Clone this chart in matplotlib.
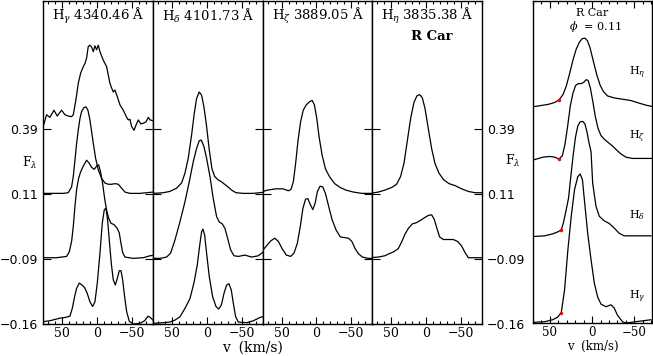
import matplotlib.pyplot as plt
from matplotlib.ticker import MultipleLocator

plt.rcParams['font.family'] = 'DejaVu Serif'
plt.rcParams['mathtext.fontset'] = 'dejavuserif'

# continuum levels of the stacked spectra (position, label)
level_pos = [0, 1, 2, 3]
level_lab = ['\u22120.16', '\u22120.09', '0.11', '0.39']

# ---- H gamma 4340.46 (four epochs, top to bottom) ----
hg1_v = [76.7, 71.9, 67.1, 61.4, 56.7, 50.5, 45.7, 41.0, 36.2, 33.8, 30.0, 26.7, 23.3, 19.5, 17.1,
         14.8, 12.4, 10.0, 7.6, 5.2, 2.9, 0.5, -1.9, -4.3, -9.0, -13.8, -16.2, -18.6, -21.0, -23.3,
         -25.7, -29.0, -32.9, -37.6, -42.4, -44.8, -47.1, -49.5, -52.9, -55.7, -59.0, -62.4, -66.2,
         -70.0, -73.3, -75.7, -79.5]
hg1_f = [3.04, 3.22, 3.18, 3.29, 3.20, 3.29, 3.22, 3.20, 3.19, 3.22, 3.45, 3.70, 3.86, 3.96, 4.01,
         4.09, 4.27, 4.29, 4.26, 4.19, 4.28, 4.22, 4.29, 4.19, 4.06, 3.96, 3.83, 3.70, 3.63, 3.57,
         3.60, 3.50, 3.37, 3.29, 3.18, 3.14, 3.15, 3.04, 2.98, 3.06, 3.14, 3.08, 3.09, 3.11, 3.18,
         3.14, 3.13]
hg2_v = [76.7, 62.4, 48.1, 41.0, 36.2, 33.8, 31.4, 29.0, 26.7, 24.3, 21.9, 18.6, 15.7, 12.9, 10.0,
         7.6, 5.2, 1.9, -1.9, -6.7, -11.4, -16.2, -21.0, -25.7, -30.5, -35.2, -40.0, -47.1, -61.4, -80.5]
hg2_f = [2.01, 2.01, 2.01, 2.02, 2.11, 2.27, 2.52, 2.78, 2.98, 3.16, 3.27, 3.33, 3.34, 3.29, 3.14,
         2.96, 2.78, 2.55, 2.37, 2.24, 2.17, 2.15, 2.15, 2.16, 2.15, 2.09, 2.03, 2.01, 2.01, 2.03]
hg3_v = [76.7, 57.6, 43.3, 39.5, 36.2, 33.8, 31.4, 29.0, 26.2, 23.3, 19.5, 14.8, 11.4, 7.6, 3.8,
         0.5, -2.4, -5.2, -8.1, -11.0, -13.8, -16.7, -20.0, -24.3, -29.0, -31.9, -34.3, -36.7, -40.0,
         -51.9, -66.2, -75.7, -82.9]
hg3_f = [1.02, 1.02, 1.04, 1.11, 1.27, 1.50, 1.81, 2.07, 2.24, 2.34, 2.43, 2.52, 2.48, 2.41, 2.38,
         2.43, 2.45, 2.34, 2.16, 1.93, 1.75, 1.63, 1.55, 1.53, 1.47, 1.40, 1.24, 1.10, 1.03,
         1.01, 1.02, 1.05, 1.06]
hg4_v = [79.0, 74.3, 67.1, 60.0, 52.9, 45.7, 38.6, 35.2, 31.9, 29.0, 25.2, 21.4, 17.6, 13.8, 10.0,
         6.2, 2.9, -0.5, -4.3, -7.6, -10.5, -12.9, -15.2, -17.6, -20.5, -23.3, -26.2, -29.0, -31.9,
         -34.3, -36.7, -39.5, -42.4, -46.2, -51.9, -61.4, -68.1, -72.9, -76.2, -81.0]
hg4_f = [0.01, 0.04, 0.05, 0.07, 0.09, 0.10, 0.12, 0.24, 0.42, 0.55, 0.63, 0.60, 0.56, 0.47, 0.34,
         0.27, 0.34, 0.63, 1.09, 1.55, 1.76, 1.78, 1.60, 1.29, 0.93, 0.68, 0.60, 0.70, 0.82,
         0.82, 0.68, 0.42, 0.19, 0.04, 0.00, 0.01, 0.05, 0.12, 0.10, 0.05]

# ---- H delta 4101.73 ----
hd1_v = [76.7, 62.4, 52.9, 43.3, 36.2, 31.4, 26.7, 21.9, 18.1, 14.8, 11.0, 7.6, 4.3, 0.5, -3.3,
         -7.1, -11.0, -15.7, -20.5, -25.2, -30.0, -35.2, -41.4, -51.9, -66.2, -82.9]
hd1_f = [2.01, 2.02, 2.04, 2.09, 2.17, 2.32, 2.55, 2.91, 3.24, 3.47, 3.57, 3.52, 3.34, 3.04, 2.68,
         2.39, 2.27, 2.22, 2.19, 2.15, 2.11, 2.06, 2.02, 2.01, 2.01, 2.03]
hd2_v = [76.7, 67.1, 57.6, 51.9, 45.7, 38.6, 31.4, 25.2, 19.5, 14.8, 11.0, 8.1, 4.3, 0.5, -4.3,
         -9.0, -13.8, -17.6, -21.9, -25.7, -29.5, -33.8, -38.6, -44.8, -54.3, -63.8, -73.3, -80.5, -86.2]
hd2_f = [1.01, 1.01, 1.03, 1.09, 1.29, 1.57, 1.88, 2.19, 2.50, 2.70, 2.82, 2.83, 2.73, 2.55, 2.27,
         1.93, 1.65, 1.57, 1.54, 1.47, 1.32, 1.14, 1.05, 1.04, 1.06, 1.03, 1.05, 1.11, 1.16]
hd3_v = [76.7, 62.4, 52.9, 45.7, 38.6, 31.4, 24.3, 18.6, 13.8, 10.0, 7.6, 5.7, 3.3, 0.5, -3.3,
         -8.1, -12.9, -16.7, -20.5, -24.3, -28.1, -31.4, -34.8, -37.6, -41.0, -44.8, -56.7, -66.2,
         -75.7, -82.9]
hd3_f = [0.01, 0.02, 0.03, 0.06, 0.11, 0.24, 0.39, 0.63, 0.91, 1.24, 1.42, 1.46, 1.37, 1.09, 0.73,
         0.42, 0.27, 0.23, 0.29, 0.47, 0.60, 0.62, 0.52, 0.32, 0.11, 0.03, 0.02, 0.05,
         0.10, 0.12]

# ---- H zeta 3889.05 ----
hz1_v = [80.0, 70.5, 58.6, 48.1, 40.5, 36.7, 33.3, 30.0, 26.7, 22.9, 19.0, 14.8, 10.0, 6.2, 2.9,
         -0.5, -3.8, -8.1, -12.9, -18.6, -26.2, -34.3, -42.4, -53.3, -65.2, -81.9]
hz1_f = [2.03, 2.06, 2.08, 2.08, 2.05, 2.07, 2.19, 2.47, 2.81, 3.11, 3.29, 3.37, 3.42, 3.44, 3.37,
         3.16, 2.88, 2.60, 2.39, 2.27, 2.16, 2.10, 2.06, 2.03, 2.01, 2.01]
hz2_v = [80.0, 72.9, 65.7, 60.0, 54.8, 49.0, 43.3, 37.1, 32.4, 27.6, 23.3, 19.5, 15.7, 12.4, 8.6,
         5.2, 1.9, -1.4, -5.2, -9.0, -12.9, -17.6, -22.4, -28.1, -34.3, -40.5, -46.2, -51.0, -55.7,
         -60.5, -66.2, -74.8, -81.9]
hz2_f = [1.10, 1.19, 1.28, 1.32, 1.27, 1.15, 1.06, 1.04, 1.09, 1.24, 1.50, 1.78, 1.92, 1.93, 1.83,
         1.76, 1.86, 2.04, 2.12, 2.11, 2.01, 1.81, 1.61, 1.45, 1.34, 1.33, 1.32, 1.27, 1.16,
         1.08, 1.03, 1.01, 1.01]

# ---- H eta 3835.38 ----
he1_v = [80.0, 68.1, 58.6, 49.0, 41.9, 36.2, 31.4, 26.7, 21.9, 17.1, 12.9, 9.0, 5.2, 1.4, -3.3,
         -8.1, -12.9, -18.6, -25.2, -32.9, -41.4, -50.9, -60.5, -70.0, -81.9]
he1_f = [2.01, 2.03, 2.06, 2.10, 2.15, 2.27, 2.47, 2.81, 3.16, 3.41, 3.51, 3.53, 3.48, 3.32, 3.01,
         2.70, 2.47, 2.32, 2.22, 2.16, 2.13, 2.08, 2.04, 2.02, 2.02]
he2_v = [80.0, 68.1, 58.6, 52.9, 46.2, 39.5, 34.8, 30.0, 25.2, 19.5, 13.3, 7.1, 1.4, -3.3, -8.1,
         -11.9, -15.7, -19.5, -24.8, -31.9, -39.0, -45.2, -51.0, -55.7, -60.5, -70.0, -81.9]
he2_f = [1.02, 1.03, 1.05, 1.08, 1.11, 1.16, 1.26, 1.38, 1.47, 1.54, 1.56, 1.60, 1.64, 1.67, 1.68,
         1.61, 1.47, 1.34, 1.30, 1.30, 1.30, 1.27, 1.20, 1.10, 1.02, 1.02, 1.02]

# ---- right panel: R Car, phase 0.11 ----
rh_eta_v = [71.8, 62.0, 52.2, 44.3, 39.2, 34.5, 30.6, 26.7, 22.7, 18.8, 14.9, 11.8, 8.6, 5.5, 2.4,
            -1.6, -5.5, -9.4, -13.3, -18.4, -26.3, -36.1, -45.9, -55.7, -63.5, -70.6]
rh_eta_f = [3.32, 3.34, 3.36, 3.39, 3.43, 3.51, 3.64, 3.83, 4.04, 4.21, 4.32, 4.37, 4.38, 4.34, 4.23,
            4.02, 3.82, 3.66, 3.56, 3.49, 3.46, 3.44, 3.42, 3.38, 3.35, 3.33]
rh_zeta_v = [71.8, 65.9, 58.0, 50.2, 44.3, 39.2, 35.3, 32.2, 29.0, 25.9, 22.7, 19.6, 16.5, 12.9, 9.8,
             7.1, 4.7, 2.0, -0.8, -3.9, -7.1, -10.6, -14.9, -19.6, -24.3, -29.0, -34.1, -40.0,
             -47.8, -59.6, -70.6]
rh_zeta_f = [2.50, 2.52, 2.55, 2.56, 2.55, 2.52, 2.57, 2.74, 3.02, 3.33, 3.53, 3.65, 3.68, 3.68, 3.70,
             3.74, 3.73, 3.61, 3.41, 3.17, 2.99, 2.88, 2.82, 2.77, 2.72, 2.66, 2.60, 2.55,
             2.53, 2.53, 2.53]
rh_delta_v = [69.6, 56.1, 46.7, 40.8, 36.5, 33.8, 30.2, 27.9, 25.2, 22.4, 19.6, 16.9, 14.4, 11.1, 8.5,
              6.1, 3.8, 1.2, -0.7, -4.7, -8.6, -14.5, -20.4, -26.2, -32.1, -38.0, -51.8, -69.8]
rh_delta_f = [1.33, 1.34, 1.37, 1.40, 1.43, 1.55, 1.77, 1.92, 2.25, 2.58, 2.86, 3.03, 3.09, 3.10, 3.06,
              2.94, 2.78, 2.63, 2.15, 1.79, 1.64, 1.57, 1.53, 1.46, 1.38, 1.34, 1.34, 1.34]
rh_gamma_v = [69.6, 56.1, 46.7, 40.8, 36.5, 32.6, 28.7, 24.7, 20.8, 16.9, 14.1, 11.4, 9.1, 5.2, 1.2,
              -2.7, -6.6, -10.6, -16.5, -22.4, -26.2, -30.1, -36.0, -40.0, -51.8, -69.8]
rh_gamma_f = [0.01, 0.02, 0.05, 0.09, 0.16, 0.51, 1.12, 1.64, 2.05, 2.25, 2.29, 2.20, 1.89, 1.38, 0.97,
              0.61, 0.40, 0.29, 0.25, 0.28, 0.23, 0.12, 0.02, 0.00, 0.02, 0.05]
# red markers on the blue wings
dot_v = [39.2, 39.2, 36.5, 36.5]
dot_f = [3.43, 2.52, 1.43, 0.16]
right_lab = ['H$_\\eta$', 'H$_\\zeta$', 'H$_\\delta$', 'H$_\\gamma$']
right_lab_y = [73, 137, 215, 297]   # pixel rows of the line labels

panels = [
    ('H$_\\gamma$ 4340.46 \u00c5', [(hg1_v, hg1_f), (hg2_v, hg2_f), (hg3_v, hg3_f), (hg4_v, hg4_f)]),
    ('H$_\\delta$ 4101.73 \u00c5', [(hd1_v, hd1_f), (hd2_v, hd2_f), (hd3_v, hd3_f)]),
    ('H$_\\zeta$ 3889.05 \u00c5', [(hz1_v, hz1_f), (hz2_v, hz2_f)]),
    ('H$_\\eta$ 3835.38 \u00c5', [(he1_v, he1_f), (he2_v, he2_f)]),
]

W, H = 653, 356
fig = plt.figure(figsize=(W / 100, H / 100), dpi=100)


def box(x0, x1, y0, y1):
    return [x0 / W, 1 - y1 / H, (x1 - x0) / W, (y1 - y0) / H]


def ptext(x, y, s, **kw):
    fig.text(x / W, 1 - y / H, s, **kw)


def style(ax):
    ax.xaxis.set_major_locator(MultipleLocator(50))
    ax.xaxis.set_minor_locator(MultipleLocator(10))
    ax.tick_params(which='both', direction='in', top=True, right=True, width=0.8)
    ax.tick_params(which='major', length=5)
    ax.tick_params(which='minor', length=2.5)
    for s in ax.spines.values():
        s.set_linewidth(1.0)


edges = [43, 153, 263, 372, 482]
for i, (title, specs) in enumerate(panels):
    ax = fig.add_axes(box(edges[i], edges[i + 1], 1, 324))
    for v, f in specs:
        ax.plot(v, f, color='black', lw=0.9)
    ax.set_xlim(77, -80)
    ax.set_ylim(0, 4.97)
    style(ax)
    ax.set_xticks([50, 0, -50])
    ax.set_xticklabels(['50', '0', '\u221250'], fontsize=9)
    ax.set_yticks(level_pos)
    ax.set_yticklabels(level_lab, fontfamily='DejaVu Sans', fontsize=9)
    ax.tick_params(axis='y', labelleft=(i == 0), labelright=(i == 3), length=6)
    ax.tick_params(axis='x', pad=2)
    ptext(edges[i] + 9, 16, title, fontsize=9.5, va='center', ha='left')

ptext(432, 37, 'R Car', fontsize=9.5, fontweight='bold', ha='center', va='center')
ptext(30, 163, 'F$_\\lambda$', fontsize=9, ha='center', va='center')
ptext(513, 161, 'F$_\\lambda$', fontsize=9, ha='center', va='center')
ptext(252, 348, 'v  (km/s)', fontsize=10, ha='center', va='center')

# right panel
axr = fig.add_axes(box(533, 652, 1, 323))
for v, f in [(rh_eta_v, rh_eta_f), (rh_zeta_v, rh_zeta_f), (rh_delta_v, rh_delta_f),
             (rh_gamma_v, rh_gamma_f)]:
    axr.plot(v, f, color='black', lw=0.9)
axr.plot(dot_v, dot_f, 'o', color='red', ms=2.5, mec='none')
axr.set_xlim(70, -71)
axr.set_ylim(0, 4.95)
style(axr)
axr.set_xticks([50, 0, -50])
axr.set_xticklabels(['50', '0', '\u221250'], fontsize=8.5)
axr.tick_params(axis='x', pad=2)
axr.set_yticks([])
for lab, yy in zip(right_lab, right_lab_y):
    ptext(637, yy, lab, fontsize=8, ha='center', va='center')
ptext(592, 13, 'R Car', fontsize=8, ha='center', va='center')
ptext(595, 27, '$\\phi$  = 0.11', fontsize=8, ha='center', va='center')
ptext(593, 346, 'v  (km/s)', fontsize=8.5, ha='center', va='center')

fig.savefig('out.png', dpi=100)
